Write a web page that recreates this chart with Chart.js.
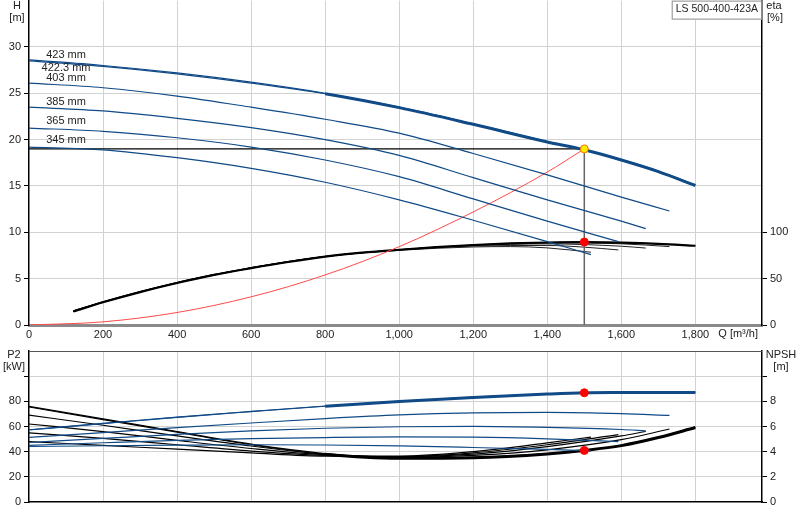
<!DOCTYPE html>
<html>
<head>
<meta charset="utf-8">
<script src="https://cdn.jsdelivr.net/npm/chart.js@4.4.1/dist/chart.umd.min.js"></script>
<style>
body { margin: 0; background: #fff; }
#wrap { position: relative; width: 800px; height: 520px; overflow: hidden; }
canvas { position: absolute; left: 0; }
</style>
</head>
<body>
<div id="wrap">
  <canvas id="grafico_h" width="800" height="357" style="top:-9px"></canvas>
  <canvas id="grafico_p" width="800" height="180" style="top:340px"></canvas>
</div>
<script>
// flow values (m3/h) for each impeller curve
var q423 = [0, 200, 400, 600, 800, 1000, 1200, 1400, 1500, 1600, 1700, 1800];
var q403 = [0, 200, 400, 600, 800, 1000, 1200, 1400, 1600, 1730];
var q385 = [0, 200, 400, 600, 800, 1000, 1200, 1400, 1600, 1666];
var q365 = [0, 200, 400, 600, 800, 1000, 1200, 1400, 1592];
var q345 = [0, 200, 400, 600, 800, 1000, 1200, 1400, 1518];

// x tick labels
var qTicks = [0, 200, 400, 600, 800, 1000, 1200, 1400, 1600, 1800];

var diametros = ["423 mm", "422.3 mm", "403 mm", "385 mm", "365 mm", "345 mm"];

// head H [m]
var h423  = [28.6, 28.0, 27.2, 26.2, 25.0, 23.5, 21.7, 19.8, 18.9, 17.85, 16.6, 15.1];
var h4223 = [28.5, 27.9, 27.1, 26.1, 24.95, 23.45, 21.65, 19.75, 18.9, 17.8, 16.55, 15.05];
var h403  = [26.1, 25.6, 24.7, 23.5, 22.2, 20.7, 18.5, 16.2, 13.8, 12.3];
var h385  = [23.5, 23.1, 22.3, 21.3, 20.0, 18.3, 15.9, 13.5, 11.2, 10.4];
var h365  = [21.25, 20.9, 20.2, 19.2, 17.8, 16.0, 13.6, 11.2, 9.0];
var h345  = [19.2, 18.9, 18.05, 16.9, 15.4, 13.5, 11.3, 9.0, 7.6];

// efficiency eta [%]
var qEta423 = [120, 200, 300, 400, 500, 600, 700, 800, 900, 1000, 1100, 1200, 1300, 1400, 1500, 1600, 1700, 1800];
var eta423  = [14.6, 24.5, 35.5, 45.3, 54, 61.3, 68, 73.8, 78, 81.2, 84, 86.3, 88, 89, 89.5, 88.9, 87.6, 85.5];
var qEta403 = [120, 200, 400, 600, 800, 1000, 1200, 1400, 1600, 1730];
var eta403  = [14.8, 24.6, 45.4, 61.4, 73.8, 81.2, 86.1, 88.6, 87.6, 84.6];
var qEta385 = [120, 200, 400, 600, 800, 1000, 1200, 1400, 1600, 1666];
var eta385  = [15, 24.8, 45.6, 61.6, 73.9, 81.2, 85.8, 87.5, 85.0, 83.0];
var qEta365 = [120, 200, 400, 600, 800, 1000, 1200, 1400, 1500, 1592];
var eta365  = [15.2, 25, 45.8, 61.8, 74, 81, 85.2, 85.8, 84, 81];
var qEta345 = [120, 200, 400, 600, 800, 1000, 1200, 1300, 1400, 1518];
var eta345  = [15.4, 25.2, 46, 62, 74, 80.6, 84.2, 84.6, 83.2, 78.5];

// system curve
var qSist = [0, 200, 400, 600, 800, 1000, 1200, 1400, 1500];
var hSist = [0, 0.34, 1.35, 3.04, 5.4, 8.45, 12.2, 16.5, 19.0];

// power P2 [kW]
var p423  = [57.4, 62.5, 67.5, 72, 76.3, 80, 83.3, 86, 86.8, 87.1, 87.2, 87.1];
var p4223 = [57.2, 62.3, 67.3, 71.8, 76.1, 79.8, 83.1, 85.8, 86.8, 87.0, 87.1, 87.0];
var p403  = [51.3, 55.2, 59.1, 62.8, 66.3, 69.2, 70.8, 71.2, 70.2, 68.8];
var p385  = [47.3, 50.5, 53.8, 56.6, 58.6, 59.8, 60.1, 59.3, 57.6, 56.6];
var p365  = [45.0, 47.1, 49.0, 50.3, 51.2, 51.7, 51.5, 50.2, 48.0];
var p345  = [44.1, 44.7, 45.2, 45.5, 45.3, 44.6, 43.3, 41.8, 40.6];

// NPSH [m]
var n423  = [7.6, 6.6, 5.6, 4.6, 3.85, 3.5, 3.55, 3.85, 4.1, 4.5, 5.15, 5.95];
var n4223 = [7.55, 6.55, 5.55, 4.55, 3.8, 3.48, 3.52, 3.82, 4.1, 4.48, 5.12, 5.92];
var n403  = [6.9, 6.1, 5.25, 4.45, 3.8, 3.55, 3.7, 4.15, 4.95, 5.8];
var n385  = [6.2, 5.6, 4.9, 4.25, 3.75, 3.6, 3.8, 4.4, 5.25, 5.6];
var n365  = [5.5, 5.05, 4.55, 4.05, 3.7, 3.6, 3.9, 4.55, 5.35];
var n345  = [4.8, 4.5, 4.2, 3.9, 3.65, 3.65, 4.0, 4.7, 5.16];

// duty point
var qDuty = 1500, hDuty = 19, etaDuty = 89.5, p2Duty = 86.8, npshDuty = 4.1;

// label anchors for the diameter texts (Q, H)
var rotuloQ = 100;
var rotuloH = [29.1, 27.7, 26.6, 24.1, 22.0, 19.95];

var azul = '#104a87';
var grade = '#d2d2d2';
var inicioGrosso = 750;

Chart.defaults.font.family = '"Liberation Sans", Arial, sans-serif';
Chart.defaults.font.size = 11;
Chart.defaults.color = '#222';

function pts(q, v) {
  return q.map(function(x, i) { return {x: x, y: v[i]}; });
}

function linha(q, v, cor, larg, eixo) {
  return {
    data: pts(q, v), borderColor: cor, borderWidth: larg, yAxisID: eixo || 'y',
    showLine: true, pointRadius: 0, cubicInterpolationMode: 'monotone', fill: false
  };
}

function linhaGrossa(q, v, cor, eixo) {
  var d = linha(q, v, cor, 1.2, eixo);
  d.segment = { borderWidth: function(c) { return c.p0.parsed.x >= inicioGrosso ? 3 : 1.2; } };
  return d;
}

function ponto(x, y, fundo, borda, eixo) {
  return {
    data: [{x: x, y: y}], yAxisID: eixo, showLine: false,
    pointRadius: 4, pointBackgroundColor: fundo, pointBorderColor: borda, pointBorderWidth: 1
  };
}

var eixoX = function(mostraRotulo) {
  return {
    type: 'linear', min: 0, max: 1980,
    afterBuildTicks: function(s) {
      s.ticks = qTicks.map(function(v) { return {value: v}; });
    },
    ticks: {
      display: mostraRotulo, padding: 3, maxRotation: 0, autoSkip: false,
      callback: function(v) { return v.toLocaleString('en-US'); }
    },
    grid: {
      color: function(c) { return c.tick && c.tick.value > 0 ? grade : 'rgba(0,0,0,0)'; },
      drawTicks: false
    },
    border: mostraRotulo ? { color: '#8a8a8a', width: 3 } : { color: '#000', width: 1.5 },
    afterFit: function(s) { s.height = mostraRotulo ? 23 : 18; }
  };
};

// labels up to 'ultimo', bare tick marks up to 'ultimaMarca', nothing above
function eixoY(max, passo, ultimo, ultimaMarca, larg, posicao, desenhaGrade) {
  return {
    type: 'linear', position: posicao, min: 0, max: max,
    ticks: {
      stepSize: passo, padding: 3,
      callback: function(v) {
        if (v <= ultimo) return v;
        if (v <= ultimaMarca) return '';
        return null;
      }
    },
    grid: {
      drawOnChartArea: desenhaGrade,
      color: function(c) { return c.tick && c.tick.value > 0 && c.tick.value < max ? grade : 'rgba(0,0,0,0)'; },
      tickColor: '#000',
      tickLength: 5
    },
    border: { color: '#000', width: 1.5 },
    afterFit: function(s) { s.width = larg; }
  };
}

var textos = {
  id: 'textos',
  afterDraw: function(chart, args, opts) {
    var ctx = chart.ctx, a = chart.chartArea;
    ctx.save();
    ctx.fillStyle = '#222';
    ctx.font = '11px "Liberation Sans", Arial, sans-serif';
    ctx.textAlign = 'center';
    ctx.textBaseline = 'middle';
    if (opts.topo) {
      ctx.strokeStyle = '#555';
      ctx.lineWidth = 1;
      ctx.beginPath();
      ctx.moveTo(a.left, a.top + 0.5);
      ctx.lineTo(a.right, a.top + 0.5);
      ctx.stroke();
    }
    opts.itens.forEach(function(t) {
      ctx.fillText(t[0], t[1] < 0 ? a.right + (-t[1]) : t[1], a.top + t[2]);
    });
    if (opts.diametros) {
      var sx = chart.scales.x, sy = chart.scales.y;
      diametros.forEach(function(d, i) {
        ctx.fillText(d, sx.getPixelForValue(rotuloQ), sy.getPixelForValue(rotuloH[i]));
      });
    }
    if (opts.caixa) {
      var txt = 'LS 500-400-423A';
      ctx.font = '10.5px "Liberation Sans", Arial, sans-serif';
      var w = ctx.measureText(txt).width + 8;
      ctx.fillStyle = '#fff';
      ctx.fillRect(a.right - w, a.top, w, 19);
      ctx.strokeStyle = '#8a8a8a';
      ctx.strokeRect(a.right - w + 0.5, a.top + 0.5, w - 1, 18);
      ctx.fillStyle = '#222';
      ctx.textAlign = 'left';
      ctx.fillText(txt, a.right - w + 4, a.top + 9);
      ctx.font = '11px "Liberation Sans", Arial, sans-serif';
      ctx.textAlign = 'right';
      ctx.fillText('Q [m\u00b3/h]', a.right - 4, a.bottom + 9);
    }
    ctx.restore();
  }
};

new Chart(document.getElementById('grafico_h'), {
  type: 'scatter',
  data: {
    datasets: [
      ponto(qDuty, hDuty, '#ffe600', '#f07800', 'y'),
      ponto(qDuty, etaDuty, '#ff0000', '#ff0000', 'y2'),
      linhaGrossa(q423, h4223, azul, 'y'),
      linha(q423, h423, azul, 1.2),
      linha(q403, h403, azul, 1.2),
      linha(q385, h385, azul, 1.2),
      linha(q365, h365, azul, 1.2),
      linha(q345, h345, azul, 1.2),
      linha([0, qDuty], [hDuty, hDuty], '#000', 1.2),
      linha([qDuty, qDuty], [hDuty, 0], '#666', 1.5),
      linha(qSist, hSist, '#ff4a4a', 1),
      linha(qEta423, eta423, '#000', 2.2, 'y2'),
      linha(qEta423, eta423, '#000', 1, 'y2'),
      linha(qEta403, eta403, '#222', 1, 'y2'),
      linha(qEta385, eta385, '#222', 1, 'y2'),
      linha(qEta365, eta365, '#222', 1, 'y2'),
      linha(qEta345, eta345, '#222', 1, 'y2')
    ]
  },
  options: {
    responsive: false,
    animation: false,
    layout: { padding: 0 },
    plugins: {
      legend: { display: false },
      tooltip: { enabled: false },
      textos: {
        diametros: true, caixa: true,
        itens: [['H', 17, 5], ['[m]', 17, 17], ['eta', -12, 5], ['[%]', -13, 17]]
      }
    },
    scales: {
      x: eixoX(true),
      y: eixoY(35, 5, 30, 30, 29, 'left', true),
      y2: eixoY(350, 50, 100, 100, 38, 'right', false)
    }
  },
  plugins: [textos]
});

new Chart(document.getElementById('grafico_p'), {
  type: 'scatter',
  data: {
    datasets: [
      ponto(qDuty, p2Duty, '#ff0000', '#ff0000', 'y'),
      ponto(qDuty, npshDuty, '#ff0000', '#ff0000', 'y2'),
      linhaGrossa(q423, p4223, azul, 'y'),
      linha(q423, p423, azul, 1.2),
      linha(q403, p403, azul, 1.2),
      linha(q385, p385, azul, 1.2),
      linha(q365, p365, azul, 1.2),
      linha(q345, p345, azul, 1.2),
      linhaGrossa(q423, n4223, '#000', 'y2'),
      linha(q423, n423, '#000', 1.2, 'y2'),
      linha(q403, n403, '#000', 1.2, 'y2'),
      linha(q385, n385, '#000', 1.2, 'y2'),
      linha(q365, n365, '#000', 1.2, 'y2'),
      linha(q345, n345, '#000', 1.2, 'y2')
    ]
  },
  options: {
    responsive: false,
    animation: false,
    layout: { padding: { top: 11 } },
    plugins: {
      legend: { display: false },
      tooltip: { enabled: false },
      textos: {
        topo: true,
        itens: [['P2', 14, 4], ['[kW]', 14, 16], ['NPSH', -19, 4], ['[m]', -19, 16]]
      }
    },
    scales: {
      x: eixoX(false),
      y: eixoY(120, 20, 80, 100, 29, 'left', true),
      y2: eixoY(12, 2, 8, 10, 38, 'right', false)
    }
  },
  plugins: [textos]
});
</script>
</body>
</html>
